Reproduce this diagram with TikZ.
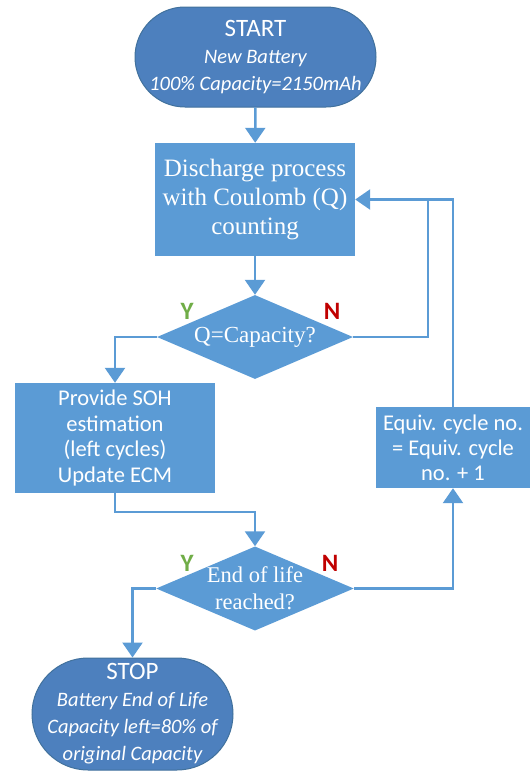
\documentclass[tikz,border=0pt]{standalone}
\usepackage{fontspec}
\setmainfont{Liberation Serif}
\newfontfamily\calfont{Carlito}
\usepackage{tikz}
\usetikzlibrary{arrows.meta}
\usetikzlibrary{shapes.geometric}
\usetikzlibrary{positioning}
\definecolor{boxblue}{HTML}{5B9BD5}
\definecolor{termblue}{HTML}{4D80BE}
\definecolor{termedge}{HTML}{41719C}
\definecolor{yesgreen}{HTML}{70AD47}
\definecolor{nored}{HTML}{C00000}
\tikzset{term/.style = {rectangle, rounded corners = #1, fill = termblue, draw = termedge,
                        line width = 1pt, text = white, inner sep = 0, align = center,
                        font = \calfont\itshape\fontsize{20.5}{27}\selectfont}}
\tikzset{procbox/.style = {rectangle, fill = boxblue, text = white, inner sep = 0,
                           align = center}}
\tikzset{decide/.style = {diamond, fill = boxblue, text = white, inner sep = 0,
                          align = center, shape aspect = 2.35}}
\tikzset{yn/.style = {font = \calfont\bfseries\fontsize{25}{25}\selectfont, inner sep = 0}}
\tikzset{flow/.style = {draw = boxblue, line width = 2.5pt,
                        -{Triangle[width = 20pt, length = 15pt]}}}
\tikzset{line/.style = {draw = boxblue, line width = 2.5pt}}

\begin{document}
\begin{tikzpicture}[x = 1pt, y = -1pt]
      \useasboundingbox (0, 0) rectangle (532, 771);
      \node [term = 50pt, minimum width = 241pt, minimum height = 100pt] (start) at (255.5, 57)
            {{\upshape\fontsize{25}{27}\selectfont START}\\ New Battery\\ 100\% Capacity=2150mAh};
      \node [procbox, minimum width = 200pt, minimum height = 113pt,
             font = \fontsize{25}{29}\selectfont] (disch) at (255, 199.5)
            {Discharge process\\ with Coulomb (Q)\\ counting};
      \node [decide, minimum width = 196pt, minimum height = 84pt,
             font = \fontsize{23}{27}\selectfont] (qcap) at (255, 337) {Q=Capacity?};
      \node [procbox, minimum width = 200pt, minimum height = 110pt,
             font = \calfont\fontsize{22.5}{25.5}\selectfont] (soh) at (115, 438)
            {Provide SOH\\ estimation\\ (left cycles)\\ Update ECM};
      \node [procbox, minimum width = 154pt, minimum height = 81pt,
             font = \calfont\fontsize{22.5}{25}\selectfont] (equiv) at (453, 447.5)
            {Equiv. cycle no.\\ = Equiv. cycle\\ no. + 1};
      \node [decide, minimum width = 196pt, minimum height = 83pt,
             font = \fontsize{22.5}{27}\selectfont] (eol) at (255, 588.5) {End of life\\ reached?};
      \node [term = 56pt, minimum width = 201pt, minimum height = 112pt] (stop) at (132.5, 714)
            {{\upshape\fontsize{25}{27}\selectfont STOP}\\ Battery End of Life\\
             Capacity left=80\% of\\ original Capacity};
      \node [yn, yesgreen] (qy) at (187, 311) {Y};
      \node [yn, nored] (qn) at (332, 311) {N};
      \node [yn, yesgreen] (ey) at (187, 563) {Y};
      \node [yn, nored] (en) at (330, 563) {N};
      \coordinate (qloop) at (428, 199.5);
      \coordinate (sohdown) at (115, 512);
      \draw [flow] (start) -- (disch);
      \draw [flow] (disch) -- (qcap);
      \draw [flow] (qcap.west) -| (soh.north);
      \draw [line] (qcap.east) -| (qloop);
      \draw [flow] (equiv.north) |- (disch.east);
      \draw [flow] (soh.south) -- (sohdown) -| (eol.north);
      \draw [flow] (eol.east) -| (equiv.south);
      \draw [flow] (eol.west) -| (stop.north);
    \end{tikzpicture}
\end{document}
